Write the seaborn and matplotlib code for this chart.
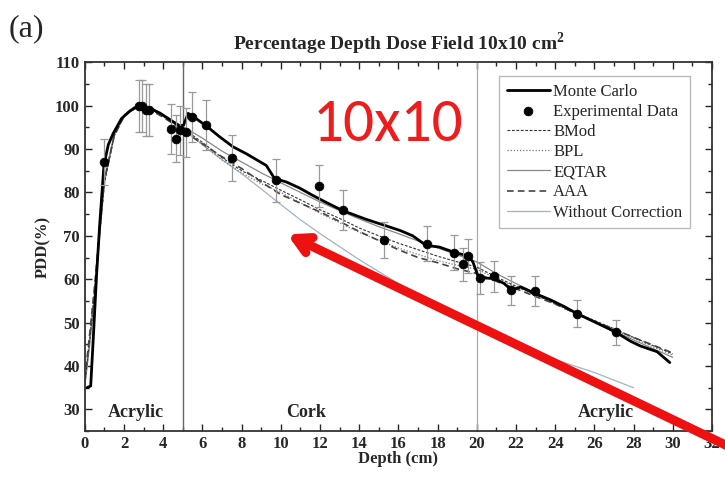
import numpy as np
import pandas as pd
import matplotlib
matplotlib.use("Agg")
import matplotlib.pyplot as plt
import seaborn as sns

# Monte Carlo curve
mc_x = [0.1, 0.3, 0.45, 0.6, 0.75, 0.98, 1.2, 1.44, 1.87, 2.29, 2.76, 3.05, 3.31, 3.82, 4.33,
        4.84, 5.04, 5.27, 5.49, 6.2, 6.88, 7.56, 8.24, 8.92, 9.26, 9.68, 10.28, 10.96, 11.63,
        12.31, 13.16, 14.35, 15.37, 16.1, 16.73, 17.41, 18.1, 18.9, 19.55, 19.8, 20.04, 20.18,
        20.86, 21.4, 21.77, 22.25, 22.98, 23.78, 24.46, 25.1, 25.8, 26.5, 27.09, 27.85, 28.36,
        29.2, 29.85]
mc_y = [35.0, 35.4, 48.0, 61.0, 72.0, 86.5, 91.0, 93.5, 97.0, 98.7, 100.0, 99.8, 99.4, 98.3, 96.8,
        95.3, 95.5, 98.2, 97.6, 95.3, 92.8, 90.5, 88.9, 87.1, 86.2, 83.2, 82.4, 81.0, 79.3,
        77.7, 75.8, 73.8, 72.3, 71.2, 70.0, 67.8, 67.4, 66.1, 65.4, 64.0, 61.0, 60.3,
        60.2, 59.0, 57.5, 58.2, 56.7, 55.2, 53.7, 52.1, 50.6, 49.1, 47.8, 45.7, 44.6,
        43.3, 40.8]

# experimental points
exp_x = [0.98, 2.76, 2.92, 3.1, 3.3, 4.42, 4.63, 4.85, 5.15, 5.49, 6.2, 7.5, 9.74, 11.95, 13.15,
         15.27, 17.47, 18.85, 19.28, 19.57, 20.18, 20.86, 21.77, 22.98, 25.1, 27.09]
exp_y = [87.0, 100.0, 100.0, 99.0, 99.0, 94.6, 92.4, 94.3, 93.8, 97.3, 95.5, 88.0, 82.8, 81.5, 76.0,
         69.0, 68.2, 66.1, 63.4, 65.3, 60.3, 60.7, 57.4, 57.3, 52.1, 47.8]
exp_err = [5.2, 6.0, 6.0, 6.0, 6.0, 5.7, 5.5, 5.7, 5.6, 5.8, 5.7, 5.3, 5.0, 4.8, 4.6,
           4.2, 4.1, 4.0, 3.8, 3.9, 3.6, 3.6, 3.4, 3.4, 3.1, 2.9]

# correction algorithms (same depth grid)
depth = [0.0, 0.25, 0.5, 0.75, 1.0, 1.5, 2.0, 2.5, 3.0, 3.5, 4.0, 4.5, 5.0, 6.0, 7.0, 8.0, 9.0,
         10.0, 11.0, 12.0, 13.0, 14.0, 15.0, 16.0, 17.0, 18.0, 19.0, 20.0, 21.0, 22.0, 23.0,
         24.0, 25.0, 26.0, 27.0, 28.0, 29.0, 30.0]
bmod = [36.0, 46.0, 57.0, 70.0, 82.0, 93.0, 97.5, 99.5, 99.6, 98.8, 97.6, 96.0, 94.8, 91.5, 88.0,
        85.0, 82.8, 80.5, 78.3, 76.0, 74.0, 71.8, 70.0, 68.3, 66.8, 65.3, 64.0, 62.8, 60.5,
        58.4, 56.4, 54.4, 52.4, 50.5, 48.6, 46.6, 44.7, 42.8]
bpl = [36.5, 47.0, 58.0, 71.0, 83.0, 93.5, 97.8, 99.6, 99.5, 98.7, 97.5, 96.0, 94.6, 91.0, 87.5,
       84.5, 82.0, 80.0, 77.6, 75.2, 73.0, 70.8, 69.0, 67.2, 65.7, 64.3, 63.2, 62.3, 60.2,
       58.2, 56.2, 54.2, 52.2, 50.3, 48.4, 46.4, 44.4, 42.5]
eqtar = [35.5, 45.0, 56.0, 69.5, 82.5, 93.5, 97.8, 99.7, 99.7, 99.0, 97.8, 96.3, 95.2, 92.5, 89.5,
         87.0, 84.5, 82.2, 80.0, 77.8, 75.8, 73.9, 72.1, 70.5, 68.8, 67.2, 65.6, 64.0, 61.3,
         59.0, 56.8, 54.6, 52.4, 50.2, 48.1, 46.0, 44.0, 42.0]
aaa = [37.0, 47.5, 58.5, 71.0, 83.0, 93.0, 97.5, 99.4, 99.4, 98.6, 97.3, 95.8, 94.2, 91.2, 88.2,
       85.5, 82.4, 79.5, 77.5, 75.5, 73.3, 71.0, 68.9, 66.8, 65.0, 63.8, 62.4, 61.3, 59.5,
       57.8, 56.0, 54.3, 52.2, 50.3, 48.5, 46.6, 44.8, 43.0]
wc_depth = [0.0, 0.25, 0.5, 0.75, 1.0, 1.5, 2.0, 2.5, 3.0, 3.5, 4.0, 4.5, 5.0, 6.0, 7.0, 8.0, 9.0,
            10.0, 11.0, 12.0, 13.0, 14.0, 16.0, 18.0, 20.0, 22.0, 24.0, 26.0, 28.0]
wc = [35.5, 45.5, 57.0, 70.0, 82.5, 93.0, 97.6, 99.6, 99.6, 98.8, 97.5, 96.0, 94.5, 91.0, 87.5,
      84.3, 80.8, 77.2, 73.7, 70.5, 67.5, 64.5, 59.0, 53.5, 48.5, 45.0, 41.5, 38.5, 35.0]

regions = ["Acrylic", "Cork", "Acrylic"]
region_x = [2.6, 11.3, 26.6]

sns.set_style("ticks")
plt.rcParams["font.family"] = ["Liberation Serif", "DejaVu Serif"]
plt.rcParams["mathtext.fontset"] = "custom"
plt.rcParams["mathtext.bf"] = "Liberation Serif:bold"
plt.rcParams["mathtext.rm"] = "Liberation Serif"

fig = plt.figure(figsize=(7.25, 4.78), dpi=100)
ax = fig.add_axes([0.117, 0.098, 0.865, 0.772])

ax.axvline(5, color="#666666", lw=1.0, zorder=1)
ax.axvline(20, color="#aaaaaa", lw=0.9, zorder=1)

sns.lineplot(x=wc_depth, y=wc, ax=ax, color="#9fb4c4", lw=0.9, label="Without Correction")
sns.lineplot(x=depth, y=eqtar, ax=ax, color="#888888", lw=0.9, label="EQTAR")
sns.lineplot(x=depth, y=bpl, ax=ax, color="#777777", lw=0.9, linestyle=(0, (1, 1.5)), label="BPL")
sns.lineplot(x=depth, y=bmod, ax=ax, color="#333333", lw=0.8, linestyle=(0, (2.5, 1.5)), label="BMod")
sns.lineplot(x=depth, y=aaa, ax=ax, color="#444444", lw=1.2, linestyle=(0, (4, 2.5)), label="AAA")
sns.lineplot(x=mc_x, y=mc_y, ax=ax, color="black", lw=2.0, label="Monte Carlo")

ax.errorbar(exp_x, exp_y, yerr=exp_err, fmt="none", ecolor="#999999", elinewidth=0.9,
            capsize=3, capthick=0.9, zorder=3)
sns.scatterplot(x=exp_x, y=exp_y, ax=ax, color="black", s=40, edgecolor="black",
                zorder=4, label="Experimental Data")

ax.set_xlim(0, 32)
ax.set_ylim(25, 110)
ax.set_xticks(np.arange(0, 33, 2))
ax.set_yticks(np.arange(30, 111, 10))
ax.set_xticks(np.arange(0, 33, 1), minor=True)
ax.set_yticks(np.arange(25, 111, 5), minor=True)
ax.tick_params(which="both", direction="in", top=True, right=True, width=1.0)
ax.tick_params(which="major", length=5, labelsize=12)
ax.tick_params(which="minor", length=3)
for lab in ax.get_xticklabels() + ax.get_yticklabels():
    lab.set_fontweight("bold")
for s in ax.spines.values():
    s.set_linewidth(1.3)
    s.set_color("#333333")

ax.set_xlabel("Depth (cm)", fontsize=12, fontweight="bold", labelpad=-1)
ax.set_ylabel("PDD(%)", fontsize=12, fontweight="bold", labelpad=3)
ax.set_title("Percentage Depth Dose Field 10x10 cm$^{\\mathbf{2}}$", fontsize=14,
             fontweight="bold", pad=9)

for name, xx in zip(regions, region_x):
    ax.text(xx, 29.2, name, ha="center", va="center", fontsize=13, fontweight="bold")

handles, labels = ax.get_legend_handles_labels()
order = ["Monte Carlo", "Experimental Data", "BMod", "BPL", "EQTAR", "AAA", "Without Correction"]
hmap = dict(zip(labels, handles))
leg = ax.legend([hmap[k] for k in order], order, loc="upper right",
                bbox_to_anchor=(0.978, 0.985), fontsize=12, frameon=True, fancybox=False,
                handlelength=2.6, handletextpad=0.2, labelspacing=0.25, borderpad=0.45)
leg.get_frame().set_edgecolor("#aaaaaa")
leg.get_frame().set_linewidth(1.0)

ax.text(15.45, 95.6, "10x10", color="#ee1c1c", fontsize=44, ha="center", va="center",
        family=["Carlito", "Lato", "DejaVu Sans"])
ax.annotate("", xy=(10.2, 70.6), xytext=(1.02, 0.055), textcoords="figure fraction",
            arrowprops=dict(arrowstyle="->,head_length=1.1,head_width=0.6", color="#ee1111",
                            lw=6.5), annotation_clip=False)

fig.text(0.012, 0.925, "(a)", fontsize=23)

fig.savefig("out.png", dpi=100)
